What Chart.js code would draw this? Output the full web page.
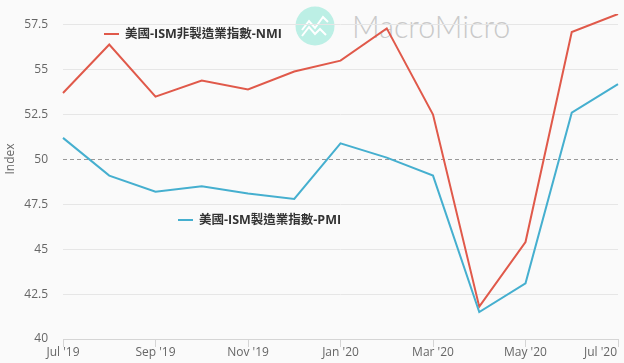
<!DOCTYPE html>
<html>
<head>
<meta charset="utf-8">
<script src="https://cdn.jsdelivr.net/npm/chart.js@4"></script>
<style>
	body { margin: 0; background: #fafafa; }
	#wrap { position: relative; width: 624px; height: 363px; overflow: hidden; background: #fafafa; font-family: "Open Sans", "Noto Sans CJK TC", sans-serif; }
	#myChart { position: absolute; left: 0; top: 0; }
	.logo { position: absolute; left: 295px; top: 6px; }
	.brand { position: absolute; left: 352px; top: 8px; font: 300 30.5px Lato, sans-serif; color: #c9c9c9; white-space: nowrap; }
	.key { position: absolute; font-size: 12.5px; font-weight: 700; color: #333; white-space: nowrap; line-height: 16px; }
	.key i { position: absolute; left: -21px; top: 7px; width: 15px; height: 2px; }
</style>
</head>
<body>
<div id="wrap">
	<svg class="logo" width="40" height="40" viewBox="0 0 40 40">
		<circle cx="20" cy="20" r="19.5" fill="#bcefe5" />
		<path d="M7 24 L14 15 L20 22 L28 11 L33 16 M7 30 L14 21 L20 28 L25 23 L31 29" fill="none" stroke="#fff" stroke-width="2" />
	</svg>
	<div class="brand">MacroMicro</div>
	<canvas id="myChart" width="624" height="363"></canvas>
	<div class="key" style="left:125px;top:26px"><i style="background:#e0594a"></i>美國-ISM非製造業指數-NMI</div>
	<div class="key" style="left:199px;top:212px"><i style="background:#45afcf"></i>美國-ISM製造業指數-PMI</div>
</div>
<script>
const months = ["Jul '19", "Aug '19", "Sep '19", "Oct '19", "Nov '19", "Dec '19", "Jan '20", "Feb '20", "Mar '20", "Apr '20", "May '20", "Jun '20", "Jul '20"];
const nmiValues = [53.7, 56.4, 53.5, 54.4, 53.9, 54.9, 55.5, 57.3, 52.5, 41.8, 45.4, 57.1, 58.1];
const pmiValues = [51.2, 49.1, 48.2, 48.5, 48.1, 47.8, 50.9, 50.1, 49.1, 41.5, 43.1, 52.6, 54.2];
const yTicks = [40, 42.5, 45, 47.5, 50, 52.5, 55, 57.5];

const tickFont = '12px "Open Sans", sans-serif';

// x labels and the y title are drawn here, Chart.js can't place them like the original
const axisText = {
	id: "axisText",
	afterDraw(chart) {
		const ctx = chart.ctx;
		const x = chart.scales.x;
		ctx.save();
		ctx.font = tickFont;
		ctx.fillStyle = "#666";
		ctx.textBaseline = "middle";
		months.forEach((m, i) => {
			if (i % 2) return;
			const last = i === months.length - 1;
			ctx.textAlign = last ? "right" : "center";
			ctx.fillText(m, x.getPixelForValue(i) + (last ? -1 : 0), 353);
		});
		ctx.translate(11, 159);
		ctx.rotate(-Math.PI / 2);
		ctx.textAlign = "center";
		ctx.fillText("Index", 0, 0);
		ctx.restore();
	},
};

new Chart(document.getElementById("myChart"), {
	type: "line",
	data: {
		labels: months,
		datasets: [
			{ label: "美國-ISM非製造業指數-NMI", data: nmiValues, borderColor: "#e0594a", borderWidth: 2, pointRadius: 0, tension: 0, order: 2 },
			{ label: "美國-ISM製造業指數-PMI", data: pmiValues, borderColor: "#45afcf", borderWidth: 2, pointRadius: 0, tension: 0, order: 1 },
		],
	},
	options: {
		responsive: false,
		animation: false,
		layout: { padding: { top: 14, right: 6, bottom: 0, left: 0 } },
		plugins: { legend: { display: false }, tooltip: { enabled: false } },
		scales: {
			x: {
				afterFit: s => { s.height = 24; },
				ticks: { display: false, autoSkip: false },
				border: { color: "#d5d5d5" },
				grid: {
					drawOnChartArea: false,
					tickLength: 8,
					color: c => (c.index % 2 ? "transparent" : "#d5d5d5"),
				},
			},
			y: {
				min: 40,
				max: 58.1,
				afterFit: s => { s.width = 63; s.paddingTop = 0; s.paddingBottom = 0; },
				afterBuildTicks: s => { s.ticks = yTicks.map(v => ({ value: v })); },
				ticks: { color: "#666", font: { size: 12, family: "Open Sans" }, padding: 15, callback: v => String(v) },
				border: { display: false, dash: c => (c.tick.value === 50 ? [4, 3] : []) },
				grid: {
					drawTicks: false,
					color: c => (c.tick.value === 50 ? "#999" : c.tick.value === 40 ? "transparent" : "#e6e6e6"),
				},
			},
		},
	},
	plugins: [axisText],
});
</script>
</body>
</html>
